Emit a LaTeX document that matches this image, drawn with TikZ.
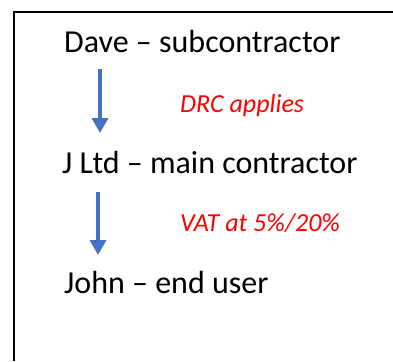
\documentclass[tikz,border=0pt]{standalone}
\usepackage{fontspec}
\setmainfont{Carlito}
\usetikzlibrary{arrows.meta}
\definecolor{flechaazul}{RGB}{68,114,196}
\tikzset{
  actor/.style={anchor=base west, inner sep=0pt, font=\fontsize{32}{38}\selectfont},
  regla/.style={anchor=base west, inner sep=0pt, text=red, font=\fontsize{26}{31}\selectfont\itshape},
  flecha/.style={draw=flechaazul, line width=3.5pt, -{Triangle[width=16pt,length=15pt]}}
}
\begin{document}
\begin{tikzpicture}[x=1pt,y=1pt]
    % Fijar el marco de la imagen
    \useasboundingbox (0,0) rectangle (393,-361);

    % Dibujar el borde del recuadro
    \draw[line width=2pt] (13.7,-361) -- (13.7,-12.3) -- (393,-12.3);

    % Colocar las partes de la cadena
    \node[actor] (dave) at (64,-52.7) {Dave – subcontractor};
    \node[actor] (jltd) at (62,-173) {J Ltd – main contractor};
    \node[actor] (john) at (64,-293) {John – end user};

    % Etiquetas de las reglas
    \node[regla] (drc) at (180,-112) {DRC applies};
    \node[regla] (vat) at (180,-231) {VAT at 5\%/20\%};

    % Extremos de las flechas
    \coordinate (d1) at (100,-69);
    \coordinate (j1) at (100,-133);
    \coordinate (d2) at (98,-192);
    \coordinate (j2) at (98,-255);

    % Dibujar las flechas
    \draw[flecha] (d1) -- (j1);
    \draw[flecha] (d2) -- (j2);
\end{tikzpicture}
\end{document}
